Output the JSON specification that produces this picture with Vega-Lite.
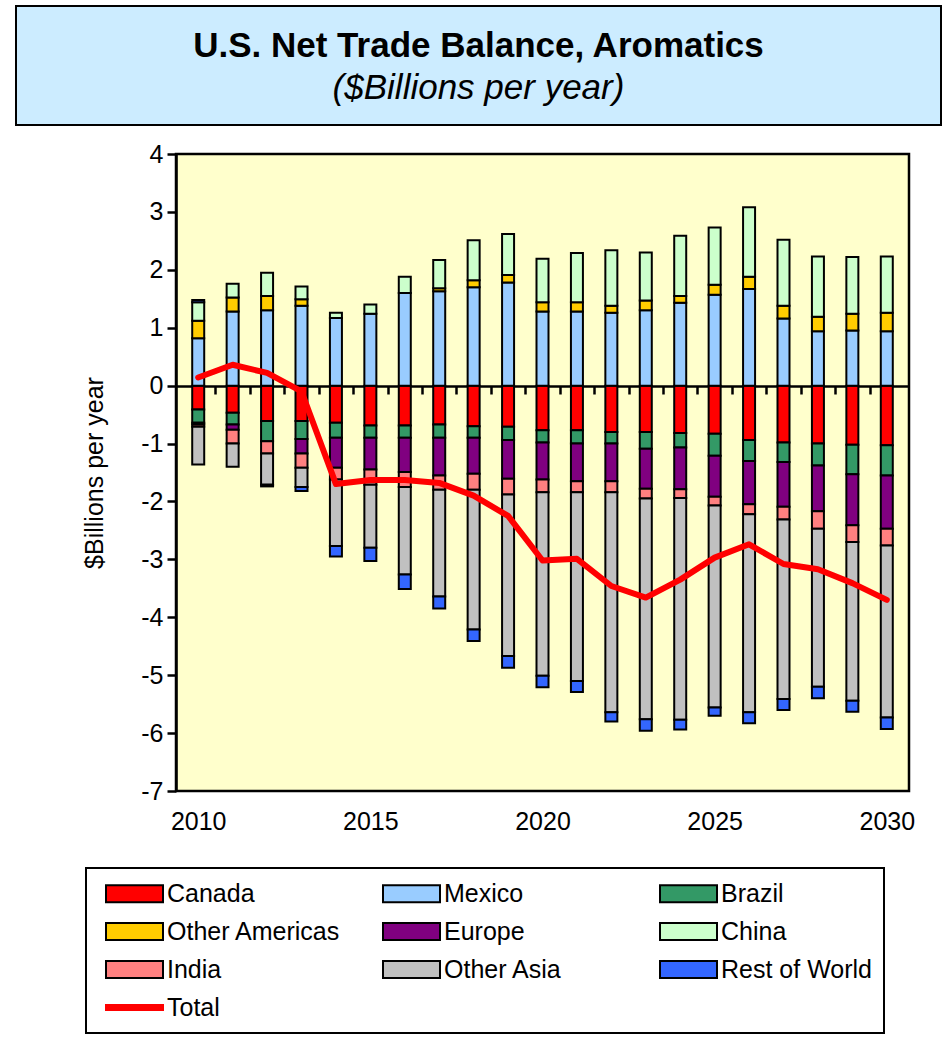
{
  "$schema": "https://vega.github.io/schema/vega-lite/v6.json",
  "background": "white",
  "padding": {"left": 15, "top": 5, "right": 5, "bottom": 5},
  "config": {
    "font": "Liberation Sans",
    "axis": {"labelColor": "black", "titleColor": "black", "labelFont": "Liberation Sans", "titleFont": "Liberation Sans"}
  },
  "spacing": 14,
  "resolve": {"scale": {"color": "independent"}, "legend": {"color": "independent"}},
  "vconcat": [
    {
      "width": 925,
      "height": 119,
      "view": {"fill": "#CCECFF", "stroke": "black", "strokeWidth": 2},
      "title": {
        "text": "U.S. Net Trade Balance, Aromatics",
        "subtitle": "($Billions per year)",
        "orient": "top",
        "anchor": "middle",
        "offset": -100,
        "font": "Liberation Sans",
        "fontSize": 35,
        "fontWeight": "bold",
        "color": "black",
        "subtitleFont": "Liberation Sans",
        "subtitleFontSize": 35,
        "subtitleFontStyle": "italic",
        "subtitleColor": "black",
        "subtitlePadding": 7
      },
      "data": {"values": []},
      "mark": "point",
      "encoding": {}
    },
    {
      "spacing": 0,
      "resolve": {"scale": {"color": "independent"}, "legend": {"color": "independent"}},
      "hconcat": [
        {
          "width": 65,
          "height": 10,
          "view": {"stroke": null, "fill": null},
          "data": {"values": []},
          "mark": "point",
          "encoding": {}
        },
        {
          "width": 733,
          "height": 637,
          "view": {"fill": "#FFFFCC", "stroke": "black", "strokeWidth": 2.5},
          "data": {
            "values": [
              {"year": 2010, "Canada": -0.41, "Mexico": 0.82, "Brazil": -0.23, "Other Americas": 0.30, "Europe": -0.03, "China": 0.32, "India": -0.04, "Other Asia": -0.65, "Rest of World": 0.04, "Total": 0.14},
              {"year": 2011, "Canada": -0.47, "Mexico": 1.28, "Brazil": -0.20, "Other Americas": 0.24, "Europe": -0.09, "China": 0.24, "India": -0.24, "Other Asia": -0.40, "Rest of World": 0, "Total": 0.36},
              {"year": 2012, "Canada": -0.61, "Mexico": 1.30, "Brazil": -0.35, "Other Americas": 0.25, "Europe": 0, "China": 0.40, "India": -0.21, "Other Asia": -0.54, "Rest of World": -0.03, "Total": 0.22},
              {"year": 2013, "Canada": -0.61, "Mexico": 1.38, "Brazil": -0.31, "Other Americas": 0.11, "Europe": -0.25, "China": 0.22, "India": -0.25, "Other Asia": -0.33, "Rest of World": -0.07, "Total": -0.10},
              {"year": 2014, "Canada": -0.64, "Mexico": 1.17, "Brazil": -0.26, "Other Americas": 0, "Europe": -0.52, "China": 0.09, "India": -0.20, "Other Asia": -1.15, "Rest of World": -0.18, "Total": -1.70},
              {"year": 2015, "Canada": -0.69, "Mexico": 1.24, "Brazil": -0.21, "Other Americas": 0, "Europe": -0.55, "China": 0.16, "India": -0.26, "Other Asia": -1.09, "Rest of World": -0.23, "Total": -1.63},
              {"year": 2016, "Canada": -0.69, "Mexico": 1.60, "Brazil": -0.21, "Other Americas": 0, "Europe": -0.59, "China": 0.28, "India": -0.26, "Other Asia": -1.51, "Rest of World": -0.25, "Total": -1.63},
              {"year": 2017, "Canada": -0.67, "Mexico": 1.63, "Brazil": -0.23, "Other Americas": 0.05, "Europe": -0.65, "China": 0.49, "India": -0.25, "Other Asia": -1.84, "Rest of World": -0.21, "Total": -1.68},
              {"year": 2018, "Canada": -0.70, "Mexico": 1.70, "Brazil": -0.20, "Other Americas": 0.12, "Europe": -0.62, "China": 0.69, "India": -0.28, "Other Asia": -2.41, "Rest of World": -0.20, "Total": -1.90},
              {"year": 2019, "Canada": -0.71, "Mexico": 1.78, "Brazil": -0.23, "Other Americas": 0.13, "Europe": -0.67, "China": 0.71, "India": -0.27, "Other Asia": -2.79, "Rest of World": -0.20, "Total": -2.25},
              {"year": 2020, "Canada": -0.77, "Mexico": 1.28, "Brazil": -0.21, "Other Americas": 0.16, "Europe": -0.64, "China": 0.75, "India": -0.22, "Other Asia": -3.17, "Rest of World": -0.20, "Total": -3.02},
              {"year": 2021, "Canada": -0.77, "Mexico": 1.28, "Brazil": -0.23, "Other Americas": 0.16, "Europe": -0.65, "China": 0.85, "India": -0.19, "Other Asia": -3.26, "Rest of World": -0.19, "Total": -2.99},
              {"year": 2022, "Canada": -0.80, "Mexico": 1.26, "Brazil": -0.20, "Other Americas": 0.12, "Europe": -0.65, "China": 0.96, "India": -0.19, "Other Asia": -3.80, "Rest of World": -0.16, "Total": -3.46},
              {"year": 2023, "Canada": -0.80, "Mexico": 1.30, "Brazil": -0.29, "Other Americas": 0.17, "Europe": -0.69, "China": 0.83, "India": -0.17, "Other Asia": -3.81, "Rest of World": -0.20, "Total": -3.66},
              {"year": 2024, "Canada": -0.82, "Mexico": 1.43, "Brazil": -0.25, "Other Americas": 0.12, "Europe": -0.72, "China": 1.04, "India": -0.15, "Other Asia": -3.83, "Rest of World": -0.17, "Total": -3.35},
              {"year": 2025, "Canada": -0.83, "Mexico": 1.57, "Brazil": -0.38, "Other Americas": 0.17, "Europe": -0.71, "China": 0.99, "India": -0.15, "Other Asia": -3.49, "Rest of World": -0.14, "Total": -2.97},
              {"year": 2026, "Canada": -0.94, "Mexico": 1.67, "Brazil": -0.36, "Other Americas": 0.21, "Europe": -0.75, "China": 1.20, "India": -0.17, "Other Asia": -3.42, "Rest of World": -0.19, "Total": -2.74},
              {"year": 2027, "Canada": -0.98, "Mexico": 1.16, "Brazil": -0.34, "Other Americas": 0.22, "Europe": -0.77, "China": 1.14, "India": -0.22, "Other Asia": -3.10, "Rest of World": -0.19, "Total": -3.08},
              {"year": 2028, "Canada": -1.00, "Mexico": 0.94, "Brazil": -0.38, "Other Americas": 0.25, "Europe": -0.79, "China": 1.04, "India": -0.30, "Other Asia": -2.73, "Rest of World": -0.20, "Total": -3.17},
              {"year": 2029, "Canada": -1.02, "Mexico": 0.95, "Brazil": -0.51, "Other Americas": 0.29, "Europe": -0.88, "China": 0.98, "India": -0.29, "Other Asia": -2.74, "Rest of World": -0.19, "Total": -3.41},
              {"year": 2030, "Canada": -1.03, "Mexico": 0.94, "Brazil": -0.52, "Other Americas": 0.32, "Europe": -0.92, "China": 0.97, "India": -0.29, "Other Asia": -2.97, "Rest of World": -0.20, "Total": -3.70}
            ]
          },
          "resolve": {"axis": {"x": "independent"}},
          "layer": [
            {
              "transform": [
                {"fold": ["Canada", "Mexico", "Brazil", "Other Americas", "Europe", "China", "India", "Other Asia", "Rest of World"], "as": ["region", "value"]},
                {"filter": "datum.value != 0"},
                {"calculate": "indexof(['Canada', 'Mexico', 'Brazil', 'Other Americas', 'Europe', 'China', 'India', 'Other Asia', 'Rest of World'], datum.region)", "as": "regionOrder"}
              ],
              "mark": {"type": "bar", "size": 12, "stroke": "black", "strokeWidth": 2},
              "encoding": {
                "x": {
                  "field": "year",
                  "type": "quantitative",
                  "scale": {"domain": [2009.5, 2030.5], "nice": false, "zero": false},
                  "axis": {
                    "values": [2010, 2015, 2020, 2025, 2030],
                    "format": "d",
                    "labelFontSize": 25,
                    "labelPadding": 18,
                    "ticks": false,
                    "tickSize": 0,
                    "domain": false,
                    "grid": false,
                    "title": null,
                    "labelFlush": false
                  }
                },
                "y": {
                  "field": "value",
                  "type": "quantitative",
                  "stack": "zero",
                  "scale": {"domain": [-7, 4], "nice": false},
                  "axis": {
                    "title": "$Billions per year",
                    "titleFontSize": 25,
                    "titleFontWeight": "normal",
                    "titlePadding": 33,
                    "values": [-7, -6, -5, -4, -3, -2, -1, 0, 1, 2, 3, 4],
                    "labelExpr": "'' + datum.value",
                    "labelFontSize": 25,
                    "labelPadding": 4,
                    "tickSize": 9,
                    "tickWidth": 2.5,
                    "tickColor": "black",
                    "domainColor": "black",
                    "domainWidth": 2.5,
                    "grid": false
                  }
                },
                "order": {"field": "regionOrder", "type": "quantitative"},
                "color": {
                  "field": "region",
                  "type": "nominal",
                  "scale": {
                    "domain": ["Canada", "Mexico", "Brazil", "Other Americas", "Europe", "China", "India", "Other Asia", "Rest of World", "Total"],
                    "range": ["#FF0000", "#99CCFF", "#339966", "#FFCC00", "#800080", "#CCFFCC", "#FF8080", "#C0C0C0", "#3366FF", "#FF0000"]
                  },
                  "legend": {
                    "orient": "none",
                    "legendX": -90,
                    "legendY": 714,
                    "title": null,
                    "direction": "horizontal",
                    "columns": 3,
                    "gridAlign": "all",
                    "columnPadding": 34,
                    "rowPadding": 11,
                    "padding": 12,
                    "strokeColor": "black",
                    "fillColor": "white",
                    "labelFont": "Liberation Sans",
                    "labelFontSize": 25,
                    "labelColor": "black",
                    "labelOffset": 19,
                    "symbolOffset": 23,
                    "labelLimit": 400,
                    "symbolSize": 625,
                    "symbolStrokeWidth": 2,
                    "symbolStrokeColor": "black",
                    "symbolOpacity": 1,
                    "encode": {
                      "symbols": {
                        "update": {
                          "shape": {"signal": "datum.value === 'Total' ? 'M-2.28,-0.2H2.28V0.2H-2.28Z' : 'M-2.28,-0.68H2.28V0.68H-2.28Z'"},
                          "stroke": {"signal": "datum.value === 'Total' ? '#FF0000' : 'black'"}
                        }
                      },
                      "legend": {"update": {"strokeWidth": {"value": 2}}}
                    }
                  }
                }
              }
            },
            {
              "mark": {"type": "line", "color": "#FF0000", "strokeWidth": 6, "strokeCap": "round", "strokeJoin": "round"},
              "encoding": {
                "x": {
                  "field": "year",
                  "type": "quantitative",
                  "axis": {
                    "orient": "bottom",
                    "offset": -405,
                    "values": [2010.5, 2011.5, 2012.5, 2013.5, 2014.5, 2015.5, 2016.5, 2017.5, 2018.5, 2019.5, 2020.5, 2021.5, 2022.5, 2023.5, 2024.5, 2025.5, 2026.5, 2027.5, 2028.5, 2029.5],
                    "labels": false,
                    "ticks": true,
                    "tickSize": 8,
                    "tickWidth": 2.5,
                    "tickColor": "black",
                    "domain": true,
                    "domainColor": "black",
                    "domainWidth": 2.5,
                    "grid": false,
                    "title": null
                  }
                },
                "y": {"field": "Total", "type": "quantitative"}
              }
            }
          ]
        }
      ]
    }
  ]
}
